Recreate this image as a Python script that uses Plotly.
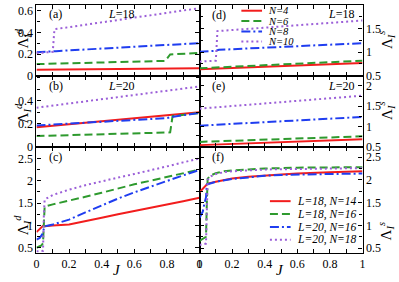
import plotly.graph_objects as go

W, H = 399, 282

# ---------------- data ----------------
series_names = ["N=4", "N=6", "N=8", "N=10"]
mix_names = ["L=18, N=14", "L=18, N=16", "L=20, N=16", "L=20, N=18"]
colors = ["#f21d1d", "#2e9a2e", "#1f3df0", "#9b5fd8"]
dashes = ["solid", "8px,4px", "9px,3px,2px,3px", "2px,3px"]

# panel (a): L=18, Lambda^d
a_J = [[0, 1],
       [0, 0.2, 0.4, 0.6, 0.79, 0.82, 1],
       [0, 0.1, 0.12, 1],
       [0, 0.1, 0.11, 1]]
a_V = [[0.055, 0.07],
       [0.108, 0.115, 0.122, 0.13, 0.138, 0.197, 0.212],
       [0.218, 0.222, 0.228, 0.302],
       [0.208, 0.222, 0.43, 0.625]]

# panel (b): L=20, Lambda^d
b_J = [[0, 1],
       [0, 0.82, 0.835, 1],
       [0, 0.4, 0.8, 0.84, 1],
       [0, 1]]
b_V = [[0.17, 0.30],
       [0.093, 0.125, 0.268, 0.293],
       [0.185, 0.215, 0.25, 0.262, 0.295],
       [0.34, 0.525]]

# panel (c): mixed, Lambda^d
c_J = [[0, 0.04, 0.05, 0.1, 0.2, 0.3, 0.4, 0.5, 0.6, 0.7, 0.8, 0.9, 1],
       [0, 0.03, 0.04, 0.045, 0.05, 0.1, 0.2, 0.3, 0.4, 0.5, 0.6, 0.7, 0.8, 0.9, 1],
       [0, 0.02, 0.035, 0.045, 0.05, 0.1, 0.2, 0.3, 0.4, 0.5, 0.6, 0.7, 0.8, 0.9, 1],
       [0, 0.04, 0.045, 0.05, 0.1, 0.2, 0.3, 0.4, 0.5, 0.6, 0.7, 0.8, 0.9, 1]]
c_V = [[0.85, 0.99, 0.98, 1.0, 1.02, 1.09, 1.17, 1.25, 1.32, 1.4, 1.47, 1.54, 1.62],
       [0.5, 0.55, 0.6, 1.0, 1.42, 1.47, 1.55, 1.64, 1.73, 1.83, 1.92, 2.0, 2.08, 2.17, 2.25],
       [0.68, 0.72, 0.8, 0.95, 0.98, 1.02, 1.13, 1.29, 1.45, 1.6, 1.74, 1.87, 2.0, 2.12, 2.24],
       [0.42, 0.43, 1.2, 1.58, 1.68, 1.8, 1.9, 1.99, 2.07, 2.15, 2.23, 2.32, 2.41, 2.5]]

# panel (d): L=18, Lambda^s
d_J = [[0, 1],
       [0, 1],
       [0, 0.1, 0.12, 1],
       [0, 0.1, 0.11, 1]]
d_V = [[0.64, 0.77],
       [0.66, 0.82],
       [1.01, 1.03, 1.05, 1.19],
       [0.80, 0.82, 1.445, 1.67]]

# panel (e): L=20, Lambda^s
e_J = [[0, 1], [0, 1], [0, 1], [0, 1]]
e_V = [[0.54, 0.685],
       [0.62, 0.757],
       [1.02, 1.236],
       [1.44, 1.76]]

# panel (f): mixed, Lambda^s
f_J = [[0, 0.02, 0.04, 0.05, 0.1, 0.2, 0.3, 0.4, 0.5, 0.6, 0.7, 0.8, 0.9, 1],
       [0, 0.02, 0.04, 0.045, 0.05, 0.07, 0.1, 0.15, 0.2, 0.3, 0.4, 0.6, 0.8, 1],
       [0, 0.02, 0.03, 0.04, 0.045, 0.1, 0.2, 0.3, 0.4, 0.5, 0.6, 0.8, 1],
       [0, 0.04, 0.045, 0.05, 0.07, 0.1, 0.15, 0.2, 0.3, 0.4, 0.6, 0.8, 1]]
f_V = [[1.73, 1.8, 1.88, 1.92, 1.96, 2.03, 2.07, 2.1, 2.12, 2.14, 2.16, 2.17, 2.18, 2.19],
       [0.66, 0.7, 0.75, 1.5, 2.03, 2.1, 2.15, 2.19, 2.21, 2.23, 2.25, 2.27, 2.28, 2.28],
       [1.17, 1.3, 1.48, 1.62, 1.9, 1.96, 2.02, 2.06, 2.09, 2.11, 2.12, 2.13, 2.14],
       [0.57, 0.6, 1.3, 2.0, 2.08, 2.13, 2.17, 2.19, 2.21, 2.23, 2.24, 2.25, 2.26]]

x_ticks = [0, 0.2, 0.4, 0.6, 0.8, 1]
x_ticktext = ["0", "0.2", "0.4", "0.6", "0.8", "1"]

# ---------------- figure ----------------
FONT = "Liberation Serif, Times New Roman, serif"
fig = go.Figure()

def X(p):
    return p / W

def Y(p):
    return 1 - p / H

left_dom = [X(34), X(199.5)]
right_dom = [X(199.5), X(365)]
rows = [[Y(77), Y(4)], [Y(150), Y(77)], [Y(259), Y(150)]]

panels = [
    (left_dom, rows[0], a_J, a_V, [0, 0.655], [0, 0.2, 0.4, 0.6], 0.1, "left"),
    (left_dom, rows[1], b_J, b_V, [0, 0.618], [0, 0.2, 0.4], 0.1, "left"),
    (left_dom, rows[2], c_J, c_V, [0.39, 2.76], [0.5, 1, 1.5, 2, 2.5], 0.25, "left"),
    (right_dom, rows[0], d_J, d_V, [0.5, 2.0], [0.5, 1, 1.5, 2], 0.25, "right"),
    (right_dom, rows[1], e_J, e_V, [0.5, 2.25], [0.5, 1, 1.5, 2], 0.25, "right"),
    (right_dom, rows[2], f_J, f_V, [0.4, 2.73], [0.5, 1, 1.5, 2, 2.5], 0.25, "right"),
]

layout_axes = {}
for i, (xd, yd, Js, Vs, yr, tv, mdt, side) in enumerate(panels, start=1):
    xa = "x" if i == 1 else f"x{i}"
    ya = "y" if i == 1 else f"y{i}"
    for k in range(4):
        fig.add_trace(go.Scatter(
            x=Js[k], y=Vs[k], mode="lines", xaxis=xa, yaxis=ya,
            line=dict(color=colors[k], width=2, dash=dashes[k]),
            showlegend=False, hoverinfo="skip"))
    bottom = i in (3, 6)
    layout_axes["xaxis" if i == 1 else f"xaxis{i}"] = dict(
        domain=xd, anchor=ya, range=[0, 1],
        showline=True, linecolor="black", linewidth=1.2, mirror="ticks",
        ticks="inside", ticklen=4, tickwidth=1, tickcolor="black",
        tickvals=x_ticks, ticktext=x_ticktext, showticklabels=bottom,
        minor=dict(ticks="inside", ticklen=4, tickwidth=1, tickcolor="black",
                   tickvals=[0.1, 0.3, 0.5, 0.7, 0.9], showgrid=False),
        showgrid=False, zeroline=False,
        tickfont=dict(family=FONT, size=12, color="black"))
    layout_axes["yaxis" if i == 1 else f"yaxis{i}"] = dict(
        domain=yd, anchor=xa, range=yr, side=side,
        showline=True, linecolor="black", linewidth=1.2, mirror="ticks",
        ticks="inside", ticklen=4, tickwidth=1, tickcolor="black",
        tickvals=tv,
        minor=dict(ticks="inside", ticklen=3, tickwidth=1, tickcolor="black",
                   dtick=mdt, tick0=0, showgrid=False),
        showgrid=False, zeroline=False,
        tickfont=dict(family=FONT, size=12, color="black"))

annotations = []

def txt(text, px, py, size=12, xanchor="center", angle=0):
    annotations.append(dict(
        text=text, x=X(px), y=Y(py), xref="paper", yref="paper",
        xanchor=xanchor, yanchor="middle", showarrow=False, textangle=angle,
        font=dict(family=FONT, size=size, color="black")))

# panel tags and L labels
for tag, px, py in [("(a)", 45, 13), ("(b)", 45, 87), ("(c)", 45, 161),
                    ("(d)", 210, 14), ("(e)", 210, 87), ("(f)", 210, 161)]:
    txt(tag, px, py, xanchor="left")
txt("<i>L</i>=18", 120, 13)
txt("<i>L</i>=20", 120, 87)
txt("<i>L</i>=18", 358, 13, xanchor="right")
txt("<i>L</i>=20", 358, 87, xanchor="right")

# axis titles
for py in (39, 116, 231):
    txt("Λ<sub><i>I</i></sub><sup><i>d</i></sup>", 20, py, size=15, angle=-90)
for py in (40, 113, 237):
    txt("Λ<sub><i>I</i></sub><sup><i>s</i></sup>", 389, py, size=15, angle=-90)
txt("<i>J</i>", 116, 277, size=15)
txt("<i>J</i>", 281, 277, size=15)

# legends (drawn as key lines + labels)
shapes = []
leg1_rows = [10, 20.7, 31.3, 41.7]
for k, py in enumerate(leg1_rows):
    shapes.append(dict(type="line", xref="paper", yref="paper",
                       x0=X(242), x1=X(263), y0=Y(py), y1=Y(py),
                       line=dict(color=colors[k], width=2, dash=dashes[k])))
    txt("<i>" + series_names[k] + "</i>", 267, py, size=10.5, xanchor="left")
leg2_rows = [206, 219.3, 232.7, 245.7]
for k, py in enumerate(leg2_rows):
    shapes.append(dict(type="line", xref="paper", yref="paper",
                       x0=X(271), x1=X(292), y0=Y(py), y1=Y(py),
                       line=dict(color=colors[k], width=2, dash=dashes[k])))
    txt("<i>" + mix_names[k] + "</i>", 296, py, size=11.5, xanchor="left")

fig.update_layout(
    width=W, height=H, autosize=False,
    margin=dict(l=0, r=0, t=0, b=0),
    paper_bgcolor="white", plot_bgcolor="white",
    showlegend=False, annotations=annotations, shapes=shapes,
    **layout_axes)

fig.write_html("out.html",
               config={"displayModeBar": False},
               post_script="document.body.style.margin='0';"
                           "document.body.style.overflow='hidden';")
